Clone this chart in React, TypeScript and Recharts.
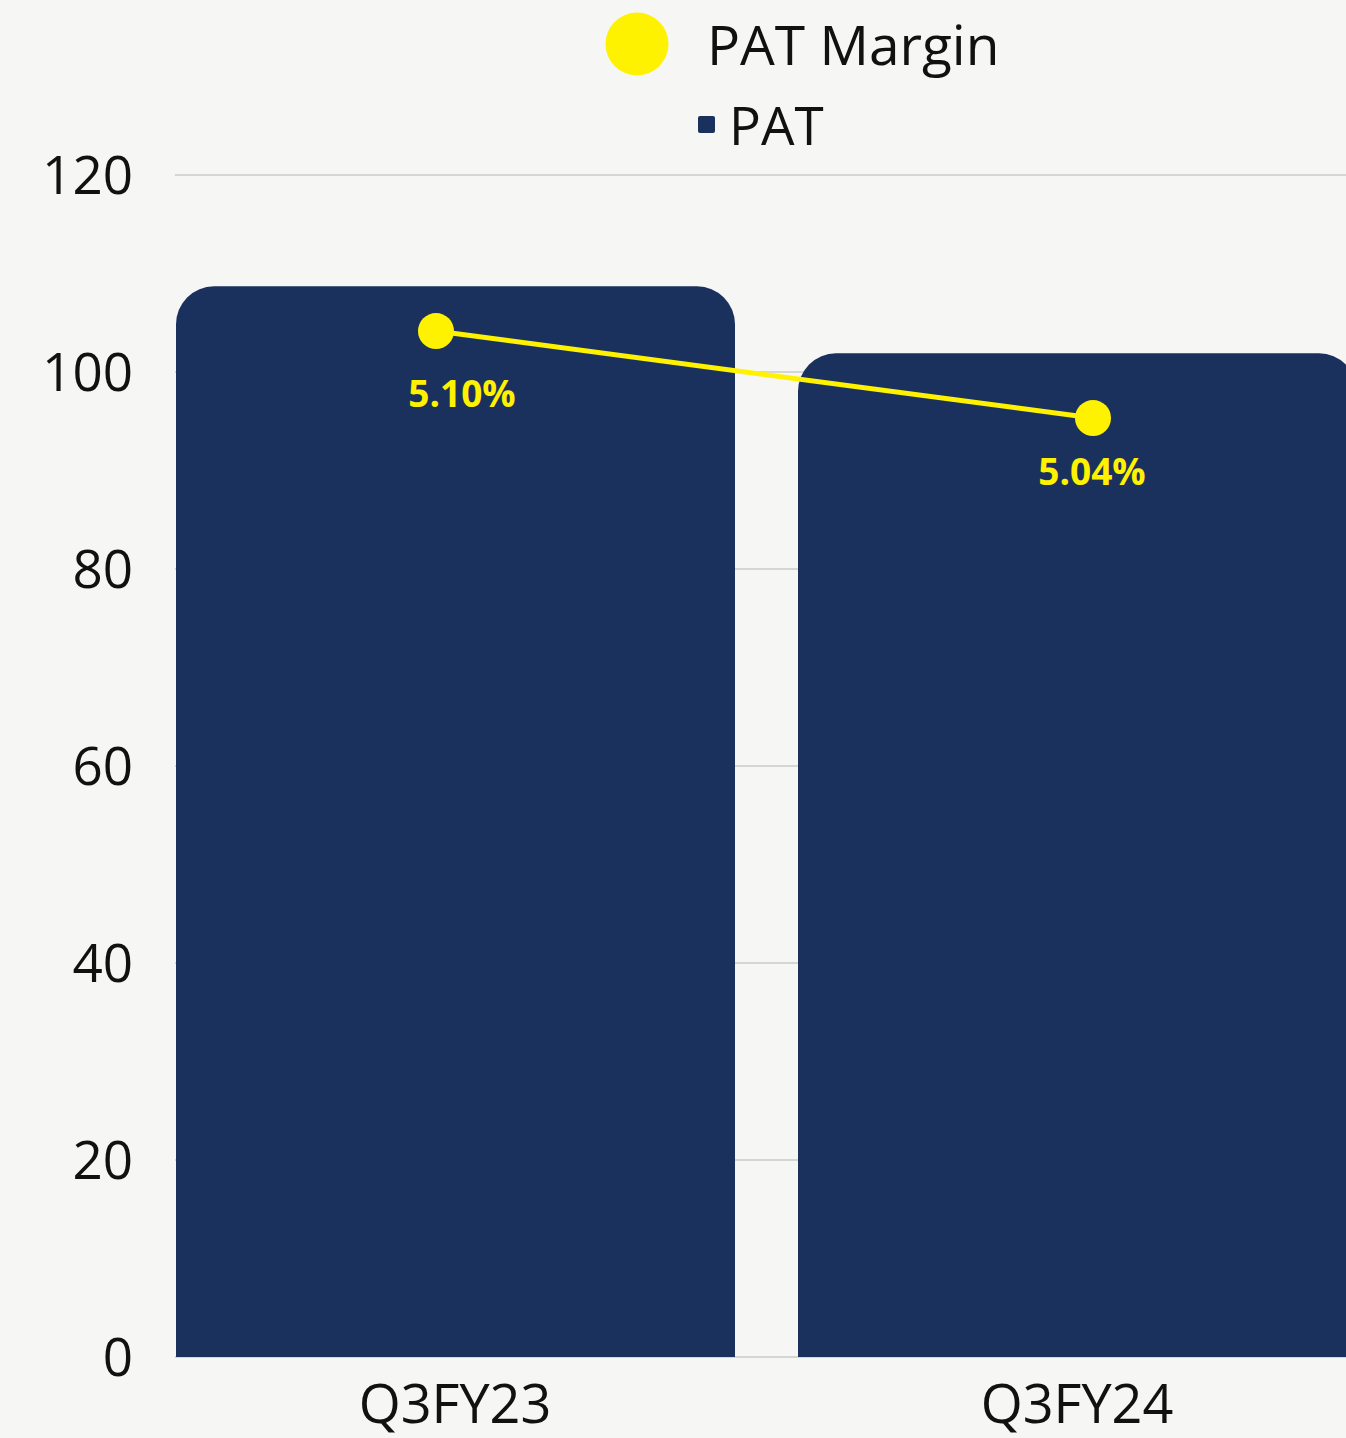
import { ComposedChart, Bar, Line, XAxis, YAxis, CartesianGrid, LabelList } from "recharts";

// reference is shot edge to edge, so drop the default body margin
document.body.style.margin = "0";

const quarters = ["Q3FY23", "Q3FY24"];
const patValues = [108.7, 101.9];
const patMargin = [5.1, 5.04];
const patTicks = [0, 20, 40, 60, 80, 100, 120];

const NAVY = "#1b315d";
const YELLOW = "#fff200";
const FONT = "'Open Sans', 'Noto Sans', sans-serif";

const data = quarters.map((q, i) => ({ quarter: q, pat: patValues[i], margin: patMargin[i] }));

// the margin labels are not placed the same way under each point in the original
const labelNudge = [
  { dx: 26, dy: 76 },
  { dx: -1, dy: 67 },
];

function MarginLabel(props: any) {
  const { value } = props;
  const vb = props.viewBox || {};
  const px = vb.x ?? props.x;
  const py = vb.y ?? props.y;
  const i = typeof props.index === "number" ? props.index : patMargin.indexOf(value);
  const n = labelNudge[i] ?? { dx: 0, dy: 70 };
  return (
    <text
      x={px + n.dx}
      y={py + n.dy}
      textAnchor="middle"
      fill={YELLOW}
      fontSize={37}
      fontWeight={700}
      fontFamily={FONT}
    >
      {`${Number(value).toFixed(2)}%`}
    </text>
  );
}

function LegendBox() {
  return (
    <svg width={1346} height={160} style={{ position: "absolute", left: 0, top: 0 }}>
      <circle cx={637} cy={44} r={31.5} fill={YELLOW} />
      <text x={707} y={65} fontSize={55} fontFamily={FONT} fill="#111">
        PAT Margin
      </text>
      <rect x={698} y={116} width={17} height={17} rx={2} fill={NAVY} />
      <text x={729} y={145} fontSize={53} fontFamily={FONT} fill="#111">
        PAT
      </text>
    </svg>
  );
}

export default function App() {
  return (
    <div
      style={{
        position: "relative",
        width: 1346,
        height: 1438,
        overflow: "hidden",
        background: "#f6f6f5",
      }}
    >
      <ComposedChart
        width={1388}
        height={1438}
        data={data}
        margin={{ top: 175, right: 0, bottom: 0, left: 0 }}
      >
        <CartesianGrid vertical={false} stroke="#b4b4b4" strokeWidth={1.2} />
        <XAxis
          dataKey="quarter"
          height={81}
          padding={{ left: -31, right: 0 }}
          axisLine={false}
          tickLine={false}
          tickSize={0}
          tickMargin={28}
          tick={{ fill: "#111", fontSize: 54, fontFamily: FONT }}
        />
        <XAxis
          xAxisId="line"
          dataKey="quarter"
          hide
          padding={{ left: -67.5, right: -33.5 }}
        />
        <YAxis
          width={175}
          domain={[0, 120]}
          ticks={patTicks}
          axisLine={false}
          tickLine={false}
          tickSize={0}
          tickMargin={42}
          tick={{ fill: "#111", fontSize: 53, fontFamily: FONT }}
        />
        <YAxis yAxisId="margin" orientation="right" hide width={0} domain={[4.3924, 5.2076]} />
        <Bar dataKey="pat" name="PAT" fill={NAVY} barSize={559} radius={[38, 38, 0, 0]} isAnimationActive={false} />
        <Line
          xAxisId="line"
          yAxisId="margin"
          dataKey="margin"
          name="PAT Margin"
          stroke={YELLOW}
          strokeWidth={5}
          dot={{ r: 18, fill: YELLOW, stroke: YELLOW, strokeWidth: 0 }}
          activeDot={false}
          isAnimationActive={false}
        >
          <LabelList dataKey="margin" content={MarginLabel} />
        </Line>
      </ComposedChart>
      <LegendBox />
    </div>
  );
}
